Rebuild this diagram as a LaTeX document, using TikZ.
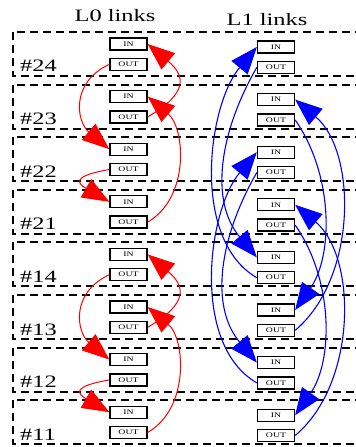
\documentclass[tikz,border=0pt]{standalone}
\usepackage{fontspec}
\setmainfont{Liberation Serif}
\usetikzlibrary{arrows.meta,positioning}
\definecolor{linkRed}{RGB}{255,0,0}
\definecolor{linkBlue}{RGB}{0,0,255}
\newcommand{\stretched}[1]{\scalebox{1.4}[1]{#1}}
\tikzset{
  grpbox/.style={dash pattern=on 8bp off 5bp,line width=2bp},
  grplabel/.style={font=\fontsize{17.5}{18}\selectfont,inner sep=0pt,anchor=base west},
  header/.style={font=\fontsize{17.5}{18}\selectfont,inner sep=0pt,anchor=base},
  portbox/.style={draw,line width=1.3bp,minimum width=37bp,minimum height=12bp,inner sep=0pt,fill=white,font=\fontsize{7}{7}\selectfont},
  redlink/.style={linkRed,line width=1bp,-{Triangle[length=27bp,width=21bp]}},
  bluelink/.style={linkBlue,line width=1.1bp,-{Triangle[length=27bp,width=21bp]}}
}

\begin{document}
\begin{tikzpicture}[x=1bp,y=1bp]
\useasboundingbox (0,0) rectangle (355,-447);
\node[header] (hdrZero) at (115,-22) {\stretched{L0 links}};
\node[header] (hdrOne) at (267,-26) {\stretched{L1 links}};
% one dashed frame per chip
\foreach \g/\k in {24/0,23/1,22/2,21/3,14/4,13/5,12/6,11/7}{
  \pgfmathsetmacro\yy{32+52.6*\k}
  \draw[grpbox] (13,-\yy) rectangle (365,-\yy-44);
  \node[grplabel] (lbl\g) at (20,-\yy-40) {\stretched{\#\g}};
  \node[portbox] (zeroIn\g) at (128.5,-\yy-12) {\stretched{IN}};
  \node[portbox,below=7bp of zeroIn\g] (zeroOut\g) {\stretched{OUT}};
  \node[portbox] (oneIn\g) at (276,-\yy-15) {\stretched{IN}};
  \node[portbox,below=7bp of oneIn\g] (oneOut\g) {\stretched{OUT}};
}
% L0 links
\foreach \a/\b/\c/\d in {24/23/22/21,14/13/12/11}{
  \draw[redlink] (zeroOut\a.west) to[out=205,in=140,looseness=1.3] (zeroIn\c.west);
  \draw[redlink] (zeroOut\b.east) to[out=30,in=-40,looseness=1.7] (zeroIn\a.east);
  \draw[redlink] (zeroOut\c.west) to[out=190,in=150,looseness=3] (zeroIn\d.west);
  \draw[redlink] (zeroOut\d.east) to[out=30,in=-40] (zeroIn\b.east);
}
% L1 links
\foreach \a/\b in {24/14,22/12}{
  \draw[bluelink] (oneOut\a.west) to[out=240,in=130] (oneIn\b.west);
  \draw[bluelink] (oneOut\b.west) to[out=150,in=230,looseness=0.85] (oneIn\a.west);
}
\foreach \a/\b in {23/13,21/11}{
  \draw[bluelink] (oneOut\a.east) to[out=-55,in=55,looseness=0.9] (oneIn\b.east);
  \draw[bluelink] (oneOut\b.east) to[out=40,in=-40,looseness=0.9] (oneIn\a.east);
}
\end{tikzpicture}
\end{document}
